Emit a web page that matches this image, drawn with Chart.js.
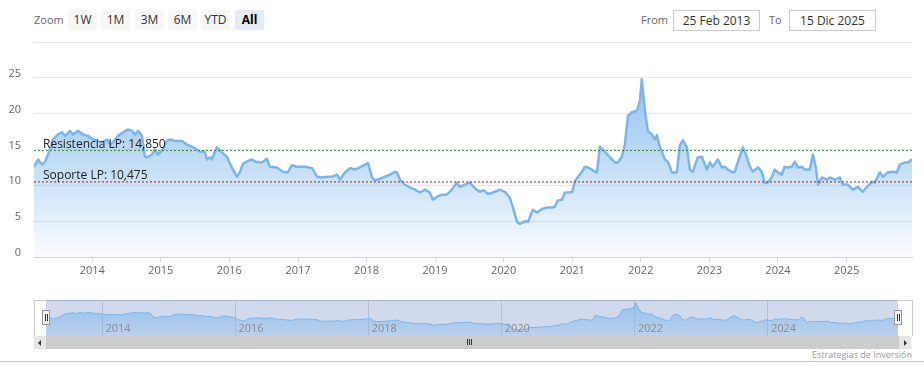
<!DOCTYPE html>
<html>
<head>
<meta charset="utf-8">
<script src="https://cdn.jsdelivr.net/npm/chart.js@4.4.1/dist/chart.umd.min.js"></script>
<style>
  body { margin: 0; background: #fff; font-family: "Open Sans", sans-serif; }
  #wrap { position: relative; width: 924px; height: 385px; overflow: hidden; background: #fff; }
  canvas { position: absolute; display: block; }
  .lbl { position: absolute; top: 12px; font-size: 11px; color: #666; line-height: 16px; }
  .btn { position: absolute; top: 10px; width: 29px; height: 20px; line-height: 20px; text-align: center;
         font-size: 12px; color: #333; background: #f7f7f7; }
  .btn.sel { background: #e6ebf5; font-weight: bold; color: #000; }
  .inp { position: absolute; top: 10px; height: 19px; line-height: 19px; border: 1px solid #ccc;
         font-size: 12px; color: #333; text-align: center; width: 85px; }
  #navbox { position: absolute; left: 34px; top: 300px; width: 877px; height: 35px; border: 1px solid #ccc; border-bottom: none; }
  .handle { position: absolute; top: 310px; width: 6px; height: 13px; background: #f2f2f2; border: 1px solid #999; }
  .handle::before, .handle::after { content: ""; position: absolute; top: 3px; width: 1px; height: 7px; background: #333; }
  .handle::before { left: 2px; } .handle::after { left: 4px; }
  #track { position: absolute; left: 34px; top: 336px; width: 878px; height: 13px; background: #f2f2f2; }
  #thumb { position: absolute; left: 46px; top: 336px; width: 853px; height: 13px; background: #cccccc; }
  .sbtn { position: absolute; top: 336px; width: 12px; height: 13px; background: #e6e6e6; }
  .arrL { position: absolute; left: 4px; top: 4px; width: 0; height: 0; border-top: 3px solid transparent; border-bottom: 3px solid transparent; border-right: 3px solid #333; }
  .arrR { position: absolute; left: 5px; top: 4px; width: 0; height: 0; border-top: 3px solid transparent; border-bottom: 3px solid transparent; border-left: 3px solid #333; }
  .grip { position: absolute; top: 339px; width: 1px; height: 6px; background: #333; }
  #bottomline { position: absolute; left: 0; top: 361px; width: 924px; height: 1px; background: #ccc; }
  #credits { position: absolute; right: 12px; top: 348px; font-size: 9px; color: #999; }
</style>
</head>
<body>
<div id="wrap">
  <div class="lbl" style="left:34px">Zoom</div>
  <div class="btn" style="left:68px">1W</div>
  <div class="btn" style="left:101px">1M</div>
  <div class="btn" style="left:135px">3M</div>
  <div class="btn" style="left:168px">6M</div>
  <div class="btn" style="left:201px">YTD</div>
  <div class="btn sel" style="left:235px">All</div>
  <div class="lbl" style="left:641px">From</div>
  <div class="inp" style="left:673px">25 Feb 2013</div>
  <div class="lbl" style="left:769px">To</div>
  <div class="inp" style="left:789px">15 Dic 2025</div>

  <canvas id="mainChart" width="924" height="290" style="left:0;top:0"></canvas>

  <div id="navbox"></div>
  <canvas id="navChart" width="852" height="36" style="left:46px;top:300px"></canvas>
  <div class="handle" style="left:42px"></div>
  <div class="handle" style="left:894px"></div>

  <div id="track"></div>
  <div id="thumb"></div>
  <div class="sbtn" style="left:34px"><div class="arrL"></div></div>
  <div class="sbtn" style="left:899px"><div class="arrR"></div></div>
  <div class="grip" style="left:467px"></div>
  <div class="grip" style="left:469px"></div>
  <div class="grip" style="left:471px"></div>

  <div id="credits">Estrategias de Inversión</div>
  <div id="bottomline"></div>
</div>

<script>
// weekly-ish closes
const dates = [
  '2013-02-25','2013-03-19','2013-04-09','2013-04-25','2013-05-22','2013-06-06','2013-07-03','2013-07-24',
  '2013-08-09','2013-09-05','2013-09-21','2013-10-17','2013-11-13','2013-12-10',
  '2014-01-06','2014-01-27','2014-02-22','2014-03-21','2014-04-06','2014-04-22','2014-05-18','2014-06-14',
  '2014-07-11','2014-08-01','2014-08-17','2014-09-02','2014-09-23','2014-10-09','2014-10-20','2014-11-15',
  '2014-12-01','2014-12-17',
  '2015-01-13','2015-02-03','2015-02-19','2015-03-18','2015-04-24','2015-05-20','2015-06-16','2015-07-13',
  '2015-07-29','2015-08-24','2015-09-04','2015-09-20','2015-09-30','2015-10-27','2015-11-23','2015-12-19',
  '2016-01-15','2016-02-10','2016-02-26','2016-03-13','2016-04-09','2016-04-30','2016-05-22','2016-06-23',
  '2016-07-19','2016-08-04','2016-09-10','2016-10-12','2016-11-08','2016-11-29','2016-12-26',
  '2017-02-07','2017-03-17','2017-04-12','2017-05-09','2017-06-04','2017-07-01','2017-07-28','2017-08-13',
  '2017-09-08','2017-10-05','2017-10-31','2017-11-27','2017-12-24',
  '2018-01-09','2018-01-30','2018-02-15','2018-03-13','2018-04-09','2018-05-06','2018-06-01','2018-06-12',
  '2018-06-28','2018-07-24','2018-08-20','2018-09-16','2018-10-12','2018-11-08','2018-12-04','2018-12-20',
  '2019-01-11','2019-02-06','2019-03-05','2019-03-31','2019-04-27','2019-05-13','2019-06-09','2019-07-05',
  '2019-08-01','2019-08-27','2019-09-18','2019-10-09','2019-11-05','2019-12-12',
  '2020-01-07','2020-02-03','2020-02-19','2020-03-12','2020-03-28','2020-04-24','2020-05-10','2020-06-05',
  '2020-06-27','2020-07-23','2020-08-19','2020-09-14','2020-09-30','2020-10-16','2020-11-07','2020-11-23',
  '2020-12-19',
  '2021-01-01','2021-01-15','2021-02-01','2021-02-21','2021-03-09','2021-03-25','2021-04-15','2021-05-01',
  '2021-05-12','2021-05-28','2021-06-23','2021-07-20','2021-08-16','2021-09-01','2021-09-22','2021-10-08',
  '2021-10-24','2021-11-14','2021-12-11','2021-12-27',
  '2022-01-06','2022-01-22','2022-02-07','2022-03-01','2022-03-17','2022-03-27','2022-04-12','2022-05-09',
  '2022-05-25','2022-06-15','2022-07-12','2022-07-28','2022-08-13','2022-09-03','2022-09-19','2022-10-05',
  '2022-10-31','2022-11-22','2022-12-18',
  '2023-01-03','2023-01-19','2023-02-15','2023-03-08','2023-03-24','2023-04-09','2023-05-06','2023-05-16',
  '2023-06-01','2023-06-28','2023-07-19','2023-08-04','2023-08-20','2023-09-16','2023-10-07','2023-10-23',
  '2023-11-08','2023-11-29','2023-12-15',
  '2024-01-01','2024-01-21','2024-02-06','2024-02-22','2024-03-15','2024-03-31','2024-04-16','2024-05-08',
  '2024-05-24','2024-06-19','2024-07-05','2024-07-21','2024-08-01','2024-08-22','2024-09-18','2024-10-04',
  '2024-10-30','2024-11-26','2024-12-12',
  '2025-01-07','2025-02-03','2025-03-02','2025-03-28','2025-04-19','2025-05-15','2025-05-31','2025-06-27',
  '2025-07-13','2025-08-08','2025-09-04','2025-09-25','2025-10-11','2025-11-07','2025-11-23','2025-12-15'
];
const prices = [
  12.6, 13.6, 12.9, 13.3, 15.0, 16.4, 17.1, 17.4,
  16.9, 17.6, 17.1, 17.6, 17.1, 16.9,
  16.4, 16.2, 16.0, 16.4, 15.7, 16.0, 16.9, 17.4,
  17.8, 17.6, 17.1, 17.6, 16.9, 14.0, 13.9, 14.3,
  15.0, 14.3,
  15.0, 16.2, 16.4, 16.2, 16.2, 15.7, 15.4, 15.0,
  14.7, 14.7, 13.6, 13.9, 13.6, 15.3, 14.6, 14.0,
  12.5, 11.2, 11.8, 13.0, 13.4, 13.6, 13.3, 13.2,
  13.7, 12.6, 12.5, 11.9, 11.8, 12.8, 12.6,
  12.6, 12.4, 11.2, 11.1, 11.2, 11.2, 11.5, 10.8,
  11.8, 12.4, 12.2, 12.5, 12.9,
  13.1, 11.1, 10.7, 10.9, 11.2, 11.5, 11.9, 11.8,
  10.8, 10.1, 9.7, 9.4, 9.0, 9.4, 9.0, 8.0,
  8.4, 8.7, 8.7, 9.4, 10.4, 9.8, 10.1, 10.4,
  9.6, 9.1, 9.3, 8.8, 9.0, 9.4,
  9.1, 8.3, 7.0, 4.9, 4.6, 5.0, 4.9, 6.6,
  6.2, 6.7, 6.9, 6.9, 7.0, 7.9, 8.0, 9.0,
  9.0,
  9.1, 10.6, 11.2, 11.9, 12.6, 12.5, 12.2, 11.9,
  11.8, 15.4, 14.7, 13.9, 13.2, 13.2, 14.0, 15.7,
  19.7, 20.2, 20.4, 21.8,
  24.8, 20.6, 17.6, 17.1, 16.4, 17.0, 15.4, 13.6,
  13.3, 11.8, 11.8, 15.6, 16.3, 15.3, 12.2, 11.9,
  13.9, 14.0, 12.2,
  13.2, 12.6, 13.6, 12.5, 12.6, 12.2, 11.8, 11.9,
  13.2, 15.3, 14.0, 12.6, 11.9, 12.5, 11.9, 10.3,
  10.4, 11.1, 12.2,
  11.8, 11.5, 12.6, 12.5, 12.6, 13.3, 12.5, 12.6,
  12.2, 12.2, 14.3, 12.5, 10.1, 11.1, 10.8, 11.1,
  10.8, 11.1, 10.1,
  10.1, 9.4, 9.8, 9.1, 9.8, 10.5, 10.4, 11.8,
  11.2, 11.8, 11.9, 11.8, 12.9, 13.2, 13.2, 13.6
];
const yearTicks = [2014, 2015, 2016, 2017, 2018, 2019, 2020, 2021, 2022, 2023, 2024, 2025];
const navYears = [2014, 2016, 2018, 2020, 2022, 2024];
const yTicks = [0, 5, 10, 15, 20, 25, 30];
const yTickLabels = ['0', '5', '10', '15', '20', '25', ''];
const resistance = 14.85;
const support = 10.475;

const points = dates.map((d, i) => ({ x: Date.parse(d), y: prices[i] }));
const xMin = points[0].x;
const xMax = points[points.length - 1].x;
const yearMs = y => Date.UTC(y, 0, 1);
const fmt = v => v.toFixed(3).replace('.', ',');

function areaFill(top, bottom) {
  return (ctx) => {
    const area = ctx.chart.chartArea;
    if (!area) return null;
    const g = ctx.chart.ctx.createLinearGradient(0, area.top, 0, area.bottom);
    g.addColorStop(0, top);
    g.addColorStop(1, bottom);
    return g;
  };
}

// labels over the support / resistance lines
const levelLabels = {
  id: 'levelLabels',
  afterDatasetsDraw(chart) {
    const c = chart.ctx, y = chart.scales.y, left = chart.chartArea.left;
    c.save();
    c.font = '12px "Open Sans"';
    c.fillStyle = '#222';
    c.textBaseline = 'alphabetic';
    c.fillText('Resistencia LP: ' + fmt(resistance), left + 9, y.getPixelForValue(resistance) - 3);
    c.fillText('Soporte LP: ' + fmt(support), left + 9, y.getPixelForValue(support) - 3);
    c.restore();
  }
};

const mainCtx = document.getElementById('mainChart').getContext('2d');
const mainChart = new Chart(mainCtx, {
  type: 'line',
  data: {
    datasets: [
      {
        label: 'Resistencia LP',
        data: [{ x: xMin, y: resistance }, { x: xMax, y: resistance }],
        borderColor: '#3a8a3a',
        borderWidth: 1,
        borderDash: [2, 2],
        pointRadius: 0,
        order: 0
      },
      {
        label: 'Soporte LP',
        data: [{ x: xMin, y: support }, { x: xMax, y: support }],
        borderColor: '#9c1c30',
        borderWidth: 1,
        borderDash: [2, 2],
        pointRadius: 0,
        order: 0
      },
      {
        label: 'Precio',
        data: points,
        borderColor: '#7cb5ec',
        borderWidth: 2.5,
        borderJoinStyle: 'round',
        fill: 'origin',
        backgroundColor: areaFill('rgba(124,181,236,1)', 'rgba(124,181,236,0.04)'),
        pointRadius: 0,
        tension: 0,
        order: 1
      }
    ]
  },
  options: {
    responsive: false,
    animation: false,
    layout: { padding: { left: 0, right: 12, top: 42, bottom: 0 } },
    plugins: { legend: { display: false }, tooltip: { enabled: false } },
    scales: {
      x: {
        type: 'linear',
        min: xMin,
        max: xMax,
        afterBuildTicks: s => { s.ticks = yearTicks.map(y => ({ value: yearMs(y) })); },
        afterFit: s => { s.height = 33; },
        ticks: {
          callback: v => new Date(v).getUTCFullYear(),
          autoSkip: false, maxRotation: 0, padding: 2,
          color: '#666', font: { family: 'Open Sans', size: 11 }
        },
        grid: { drawOnChartArea: false, drawTicks: true, tickLength: 5, color: '#ccd6eb' },
        border: { display: true, color: '#ccd6eb' }
      },
      y: {
        min: 0,
        max: 30,
        afterBuildTicks: s => { s.ticks = yTicks.map(v => ({ value: v })); },
        afterFit: s => { s.width = 34; },
        ticks: {
          callback: (v, i) => yTickLabels[i],
          padding: 13, labelOffset: -4,
          color: '#666', font: { family: 'Open Sans', size: 11 }
        },
        grid: { color: '#e6e6e6', drawTicks: false },
        border: { display: false }
      }
    }
  },
  plugins: [levelLabels]
});

// navigator: mask and year labels
const navDecor = {
  id: 'navDecor',
  beforeDatasetsDraw(chart) {
    const c = chart.ctx, a = chart.chartArea;
    c.save();
    c.fillStyle = 'rgba(102,133,194,0.3)';
    c.fillRect(a.left, a.top, a.right - a.left, a.bottom - a.top);
    c.restore();
  },
  afterDatasetsDraw(chart) {
    const c = chart.ctx, x = chart.scales.x;
    c.save();
    c.font = '11px "Open Sans"';
    c.fillStyle = '#8c8c8c';
    c.textBaseline = 'middle';
    navYears.forEach(y => c.fillText(String(y), x.getPixelForValue(yearMs(y)) + 3, 29));
    c.restore();
  }
};

const navCtx = document.getElementById('navChart').getContext('2d');
const navChart = new Chart(navCtx, {
  type: 'line',
  data: {
    datasets: [{
      data: points,
      borderColor: '#7cb5ec',
      borderWidth: 1,
      fill: 'origin',
      backgroundColor: areaFill('rgba(124,181,236,0.75)', 'rgba(124,181,236,0.25)'),
      pointRadius: 0,
      tension: 0
    }]
  },
  options: {
    responsive: false,
    animation: false,
    layout: { padding: 0 },
    plugins: { legend: { display: false }, tooltip: { enabled: false } },
    scales: {
      x: {
        type: 'linear',
        min: xMin,
        max: xMax,
        afterBuildTicks: s => { s.ticks = navYears.map(y => ({ value: yearMs(y) })); },
        afterFit: s => { s.height = 0; },
        ticks: { display: false },
        grid: { color: '#d8d8d8', drawTicks: false },
        border: { display: false }
      },
      y: { display: false, min: 0, max: 27 }
    }
  },
  plugins: [navDecor]
});
</script>
</body>
</html>
